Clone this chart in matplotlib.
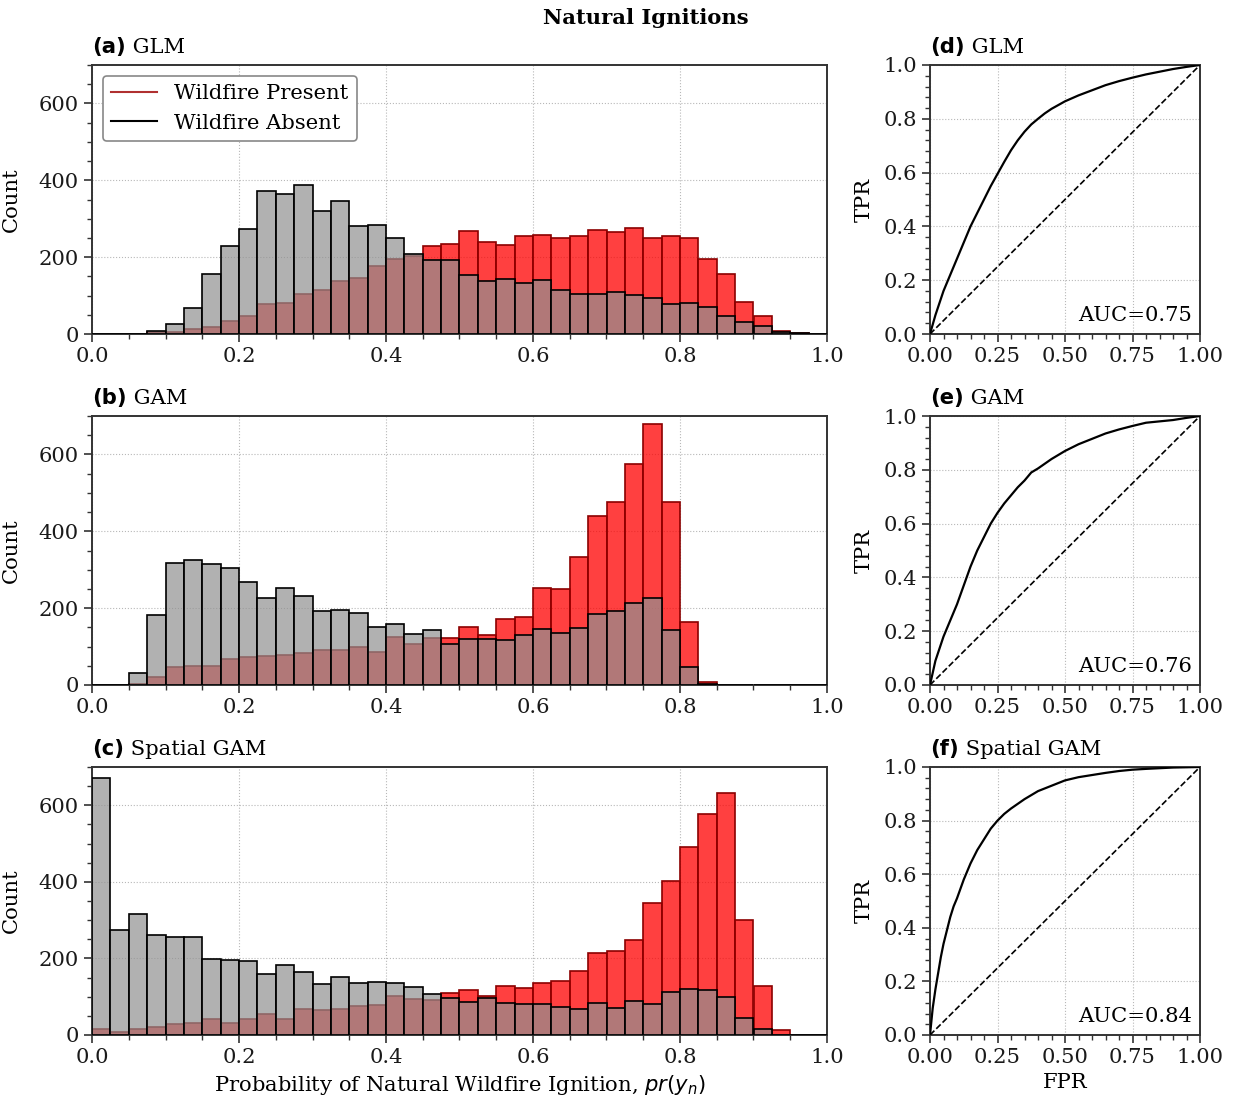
import numpy as np
import matplotlib
matplotlib.use("Agg")
import matplotlib.pyplot as plt
from matplotlib.ticker import MultipleLocator, AutoMinorLocator, FormatStrFormatter
from matplotlib.lines import Line2D

# ---------------- data ----------------
bin_edges = np.linspace(0.0, 1.0, 41)

glm_present = [0, 0, 0, 5, 4, 13, 19, 34, 46, 79, 81, 105, 114, 139, 147, 177, 194, 203, 230, 233,
               268, 239, 231, 254, 258, 249, 255, 270, 265, 277, 251, 255, 249, 195, 156, 82, 48, 9, 3, 1]
glm_absent = [0, 0, 0, 8, 27, 68, 157, 230, 274, 373, 364, 388, 320, 345, 281, 284, 250, 207, 192, 192,
              153, 139, 143, 132, 141, 114, 103, 103, 108, 101, 93, 78, 81, 71, 48, 31, 21, 5, 3, 0]

gam_present = [0, 0, 2, 20, 48, 49, 49, 68, 72, 76, 78, 83, 91, 91, 99, 86, 126, 106, 122, 122,
               150, 130, 171, 176, 252, 249, 332, 441, 475, 575, 679, 475, 165, 7, 0, 0, 0, 0, 0, 0]
gam_absent = [0, 0, 31, 181, 317, 324, 315, 304, 268, 227, 252, 232, 192, 195, 188, 152, 158, 132, 143, 107,
              119, 121, 118, 129, 145, 136, 149, 184, 193, 214, 227, 142, 48, 3, 0, 0, 0, 0, 0, 0]

sgam_present = [16, 8, 16, 21, 30, 31, 42, 32, 41, 56, 42, 68, 66, 69, 77, 79, 102, 94, 92, 111,
                117, 101, 128, 122, 136, 142, 166, 215, 220, 249, 344, 401, 491, 578, 632, 301, 127, 14, 0, 0]
sgam_absent = [671, 275, 316, 262, 255, 255, 198, 195, 193, 160, 184, 165, 132, 152, 135, 138, 137, 126, 106, 97,
               87, 97, 84, 80, 80, 72, 69, 84, 71, 89, 81, 113, 120, 117, 99, 45, 15, 0, 0, 0]

glm_fpr = [0.0, 0.02, 0.03, 0.05, 0.075, 0.10, 0.125, 0.15, 0.175, 0.20, 0.225, 0.25, 0.275, 0.30, 0.325,
           0.35, 0.375, 0.40, 0.425, 0.45, 0.50, 0.55, 0.60, 0.65, 0.70, 0.75, 0.80, 0.85, 0.90, 0.95, 1.0]
glm_tpr = [0.0, 0.07, 0.10, 0.16, 0.22, 0.28, 0.34, 0.40, 0.45, 0.50, 0.55, 0.595, 0.64, 0.683, 0.72,
           0.752, 0.779, 0.80, 0.82, 0.837, 0.865, 0.887, 0.906, 0.925, 0.94, 0.953, 0.965, 0.975, 0.985, 0.993, 1.0]

gam_fpr = [0.0, 0.02, 0.05, 0.075, 0.10, 0.125, 0.15, 0.175, 0.20, 0.225, 0.25, 0.275, 0.30, 0.325, 0.35,
           0.375, 0.40, 0.45, 0.50, 0.55, 0.60, 0.65, 0.70, 0.75, 0.80, 0.85, 0.90, 0.95, 1.0]
gam_tpr = [0.0, 0.09, 0.18, 0.24, 0.30, 0.37, 0.44, 0.50, 0.55, 0.60, 0.64, 0.675, 0.705, 0.735, 0.76,
           0.79, 0.805, 0.84, 0.87, 0.895, 0.915, 0.935, 0.95, 0.963, 0.975, 0.98, 0.985, 0.993, 1.0]

sgam_fpr = [0.0, 0.005, 0.01, 0.02, 0.03, 0.04, 0.05, 0.0625, 0.075, 0.0875, 0.10, 0.125, 0.15, 0.175, 0.20,
            0.225, 0.25, 0.275, 0.30, 0.35, 0.40, 0.45, 0.50, 0.55, 0.60, 0.65, 0.70, 0.75, 0.80, 0.90, 1.0]
sgam_tpr = [0.0, 0.05, 0.10, 0.17, 0.23, 0.29, 0.34, 0.39, 0.44, 0.48, 0.51, 0.58, 0.64, 0.69, 0.73,
            0.77, 0.80, 0.825, 0.845, 0.88, 0.91, 0.93, 0.95, 0.962, 0.97, 0.978, 0.985, 0.99, 0.993, 0.998, 1.0]

auc_values = ["0.75", "0.76", "0.84"]
model_names = ["GLM", "GAM", "Spatial GAM"]
hist_letters = ["(a)", "(b)", "(c)"]
roc_letters = ["(d)", "(e)", "(f)"]
series_present = [glm_present, gam_present, sgam_present]
series_absent = [glm_absent, gam_absent, sgam_absent]
roc_fprs = [glm_fpr, gam_fpr, sgam_fpr]
roc_tprs = [glm_tpr, gam_tpr, sgam_tpr]

# ---------------- style ----------------
plt.rcParams['font.family'] = ['DejaVu Serif']
plt.rcParams['mathtext.fontset'] = 'dejavusans'
FS = 15.2
SPINE = '#333333'

fig = plt.figure(figsize=(12.34, 11.0), dpi=100)

W, H = 1234.0, 1100.0
rows = [(65, 334), (416, 685), (767, 1035)]
hist_x = (92, 827)
roc_x = (930, 1200)

red_fill = (1.0, 0.0, 0.0, 0.75)
grey_fill = (0.57, 0.57, 0.57, 0.7)

def style_axes(ax):
    for s in ax.spines.values():
        s.set_color(SPINE)
        s.set_linewidth(1.4)
    ax.tick_params(which='major', direction='out', length=6, width=1.2, colors=SPINE,
                   labelsize=FS, labelcolor='#1a1a1a')
    ax.tick_params(which='minor', direction='out', length=3.5, width=1.0, colors=SPINE)
    ax.grid(True, which='major', linestyle=':', color='#b8b8b8', linewidth=0.8)
    ax.set_axisbelow(True)

def panel_title(ax, letter, name):
    ax.text(0.0, 1.028, letter, transform=ax.transAxes, fontsize=FS, fontweight='bold',
            family='DejaVu Sans', ha='left', va='bottom')
    ax.annotate(" " + name, xy=(1, 0), xycoords=ax.texts[-1], fontsize=FS,
                ha='left', va='bottom')

centers = 0.5 * (bin_edges[:-1] + bin_edges[1:])

for i, (top, bot) in enumerate(rows):
    hax = fig.add_axes([hist_x[0] / W, 1 - bot / H, (hist_x[1] - hist_x[0]) / W, (bot - top) / H])
    style_axes(hax)
    hax.hist(centers, bins=bin_edges, weights=series_present[i], histtype='bar',
             facecolor=red_fill, edgecolor='#8b0000', linewidth=1.2, zorder=2)
    hax.hist(centers, bins=bin_edges, weights=series_absent[i], histtype='bar',
             facecolor=grey_fill, edgecolor='black', linewidth=1.2, zorder=3)
    hax.set_xlim(0, 1)
    hax.set_ylim(0, 700)
    hax.xaxis.set_major_locator(MultipleLocator(0.2))
    hax.xaxis.set_minor_locator(MultipleLocator(0.05))
    hax.yaxis.set_major_locator(MultipleLocator(200))
    hax.yaxis.set_minor_locator(MultipleLocator(50))
    hax.set_ylabel("Count", fontsize=FS)
    hax.yaxis.set_label_coords(-0.097, 0.5)
    panel_title(hax, hist_letters[i], model_names[i])
    if i == 0:
        handles = [Line2D([], [], color='#b03030', lw=1.5),
                   Line2D([], [], color='black', lw=1.5)]
        leg = hax.legend(handles, ["Wildfire Present", "Wildfire Absent"], loc='upper left',
                         fontsize=FS, frameon=True, fancybox=True, framealpha=1,
                         borderaxespad=0.5, handlelength=2.2)
        leg.get_frame().set_edgecolor('#888888')
        leg.get_frame().set_linewidth(1.2)
    if i == 2:
        hax.set_xlabel("Probability of Natural Wildfire Ignition, $pr(y_n)$", fontsize=FS)

    rax = fig.add_axes([roc_x[0] / W, 1 - bot / H, (roc_x[1] - roc_x[0]) / W, (bot - top) / H])
    style_axes(rax)
    rax.plot(roc_fprs[i], roc_tprs[i], color='black', lw=1.6, zorder=3)
    rax.plot([0, 1], [0, 1], color='black', lw=1.2, ls='--', zorder=3)
    rax.set_xlim(0, 1)
    rax.set_ylim(0, 1)
    rax.xaxis.set_major_locator(MultipleLocator(0.25))
    rax.xaxis.set_minor_locator(AutoMinorLocator(5))
    rax.yaxis.set_major_locator(MultipleLocator(0.2))
    rax.yaxis.set_minor_locator(AutoMinorLocator(5))
    rax.xaxis.set_major_formatter(FormatStrFormatter('%.2f'))
    rax.yaxis.set_major_formatter(FormatStrFormatter('%.1f'))
    rax.set_ylabel("TPR", fontsize=FS)
    rax.yaxis.set_label_coords(-0.21, 0.5)
    rax.text(0.97, 0.035, "AUC=" + auc_values[i], transform=rax.transAxes, fontsize=FS,
             ha='right', va='bottom')
    panel_title(rax, roc_letters[i], model_names[i])
    if i == 2:
        rax.set_xlabel("FPR", fontsize=FS)

fig.text(646 / W, 1 - 18 / H, "Natural Ignitions", fontsize=FS, fontweight='bold',
         ha='center', va='center')

fig.savefig("out.png", dpi=100)
